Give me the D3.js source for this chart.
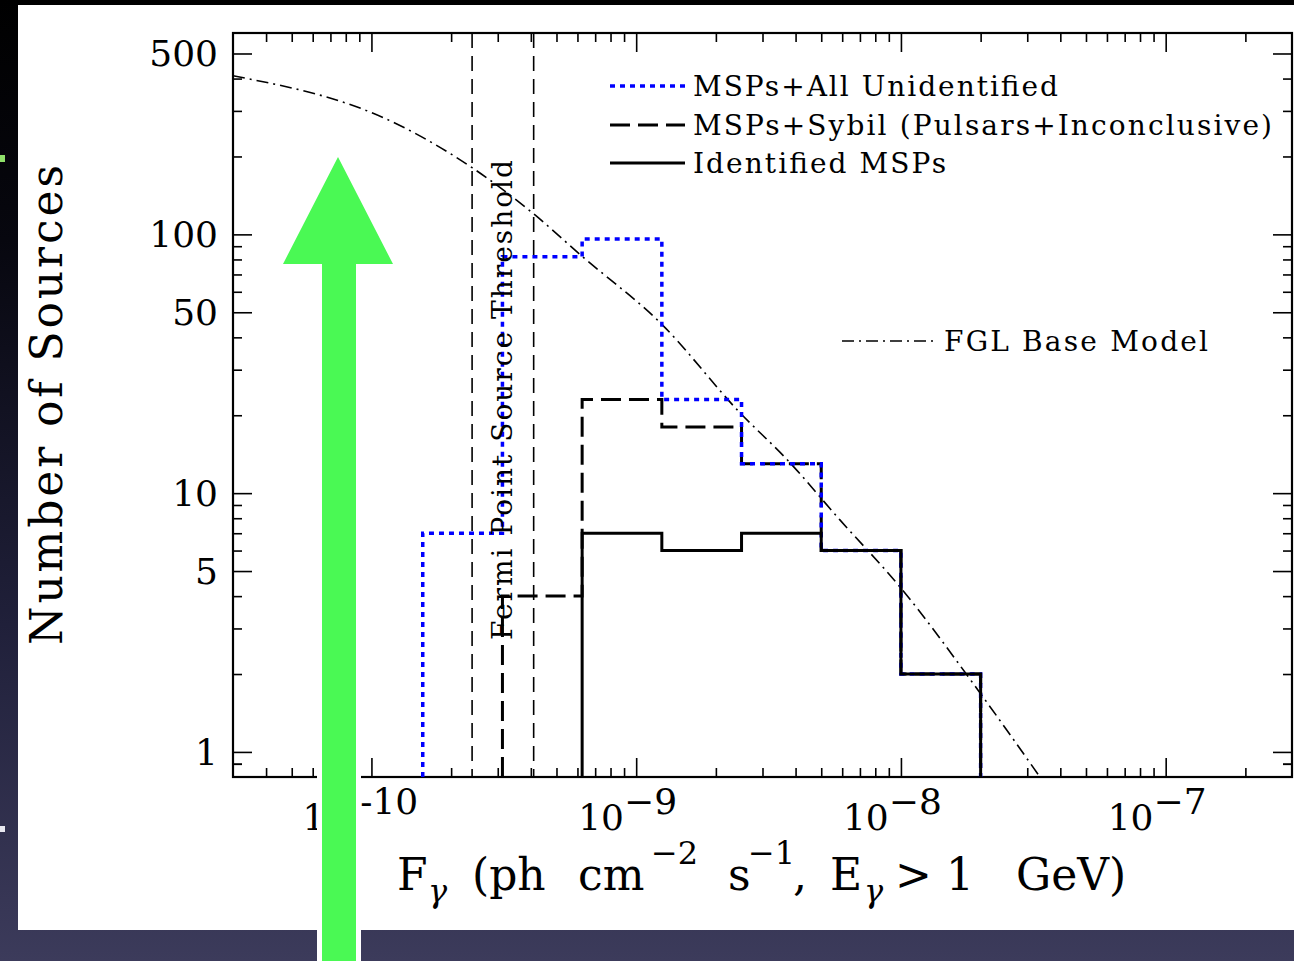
<!DOCTYPE html>
<html>
<head>
<meta charset="utf-8">
<script src="https://cdn.jsdelivr.net/npm/d3@7"></script>
<style>
  html, body { margin: 0; padding: 0; background: #000; }
  svg { display: block; }
  text { font-family: "DejaVu Serif", serif; fill: #000; }
</style>
</head>
<body>
<div id="chart"></div>
<script>
// bin edges of the flux histograms (ph cm^-2 s^-1)
const binEdges = [1.5625e-10, 3.125e-10, 6.25e-10, 1.25e-9, 2.5e-9, 5e-9, 1e-8, 2e-8];
// counts per bin, null = no bin drawn
const allUnidentified = [7, 82, 96, 23, 13, 6, 2];
const sybil = [null, 4, 23, 18, 13, 6, 2];
const identified = [null, null, 7, 6, 7, 6, 2];

// FGL base model
const modelFlux = [3.0e-11, 1.22e-10, 2.40e-10, 4.06e-10, 6.27e-10, 1.25e-9, 2.46e-9, 3.71e-9, 5.87e-9, 9.9e-9, 1.99e-8, 3.35e-8];
const modelCount = [410, 270, 181, 121, 82, 44.9, 20.5, 13.5, 7.9, 4.35, 1.69, 0.8];

// Fermi point source threshold lines
const thresholds = [2.4e-10, 4.1e-10];

// axis ticks
const xMajorExp = [-10, -9, -8, -7];
const yLabels = [1, 5, 10, 50, 100, 500];

const legendItems = ['MSPs+All Unidentified', 'MSPs+Sybil (Pulsars+Inconclusive)', 'Identified MSPs'];

const W = 1294, H = 961;
const plot = { left: 233, right: 1292, top: 33, bottom: 777 };

const svg = d3.select('#chart').append('svg').attr('width', W).attr('height', H);

// slide background
const defs = svg.append('defs');
const grad = defs.append('linearGradient').attr('id', 'bg').attr('x1', 0).attr('y1', 0).attr('x2', 0).attr('y2', 1);
grad.append('stop').attr('offset', 0).attr('stop-color', '#000000');
grad.append('stop').attr('offset', 0.25).attr('stop-color', '#07070f');
grad.append('stop').attr('offset', 0.65).attr('stop-color', '#20203a');
grad.append('stop').attr('offset', 1).attr('stop-color', '#3c3b5b');
svg.append('rect').attr('width', W).attr('height', H).attr('fill', 'url(#bg)');
svg.append('rect').attr('x', 0).attr('y', 155).attr('width', 5).attr('height', 7).attr('fill', '#8fe06a');
svg.append('rect').attr('x', 0).attr('y', 826).attr('width', 5).attr('height', 6).attr('fill', '#e8e8f0');
svg.append('rect').attr('x', 18).attr('y', 5).attr('width', W - 18).attr('height', 925).attr('fill', '#ffffff');

const xScale = d3.scaleLog().domain([3.0e-11, 3.0e-7]).range([plot.left, plot.right]);
const yScale = d3.scaleLog().domain([0.8, 600]).range([plot.bottom, plot.top]);

// minor ticks 2..9 x 10^k inside the domain
const minorTicks = (scale, k0, k1) => {
  const out = [];
  const [lo, hi] = scale.domain();
  for (let k = k0; k <= k1; k++) {
    for (let m = 2; m <= 9; m++) {
      const v = m * Math.pow(10, k);
      if (v > lo && v < hi && !(scale === yScale && m === 5)) out.push(v);
    }
  }
  return out;
};
const xMajor = xMajorExp.map((e) => Math.pow(10, e));
const xMinor = minorTicks(xScale, -11, -7);
const yMinor = minorTicks(yScale, -1, 2).concat([0.9]);

const majLen = 19, minLen = 9;
const g = svg.append('g');

const addAxis = (axisFn, scale, values, len, tx, ty) => {
  g.append('g')
    .attr('transform', `translate(${tx},${ty})`)
    .call(axisFn(scale).tickValues(values).tickSizeInner(-len).tickSizeOuter(0).tickFormat(''))
    .call((s) => s.select('.domain').remove())
    .call((s) => s.selectAll('line').attr('stroke', '#000').attr('stroke-width', 1.6));
};
[[d3.axisBottom, 0, plot.bottom], [d3.axisTop, 0, plot.top]].forEach(([fn, tx, ty]) => {
  addAxis(fn, xScale, xMajor, majLen, tx, ty);
  addAxis(fn, xScale, xMinor, minLen, tx, ty);
});
[[d3.axisLeft, plot.left, 0], [d3.axisRight, plot.right, 0]].forEach(([fn, tx, ty]) => {
  addAxis(fn, yScale, yLabels, majLen, tx, ty);
  addAxis(fn, yScale, yMinor, minLen, tx, ty);
});

// frame
g.append('rect')
  .attr('x', plot.left).attr('y', plot.top)
  .attr('width', plot.right - plot.left).attr('height', plot.bottom - plot.top)
  .attr('fill', 'none').attr('stroke', '#000').attr('stroke-width', 2.2);

// y tick labels
g.selectAll('.ylab').data(yLabels).enter().append('text')
  .attr('x', plot.left - 15)
  .attr('y', (d) => yScale(d) + 13)
  .attr('text-anchor', 'end')
  .style('font-size', '36px')
  .text((d) => d);

// x tick labels 10^k
const xl = g.selectAll('.xlab').data(xMajorExp).enter().append('text')
  .attr('x', (d) => xScale(Math.pow(10, d)) - (d === -10 ? 69 : 58))
  .attr('y', 830)
  .style('font-size', '36px');
xl.append('tspan').text('10');
xl.append('tspan')
  .attr('dy', -16)
  .attr('dx', (d) => (d === -10 ? 12 : 0))
  .text((d) => (d === -10 ? '-' : '\u2212') + Math.abs(d));

// clip for data
defs.append('clipPath').attr('id', 'clip').append('rect')
  .attr('x', plot.left).attr('y', plot.top)
  .attr('width', plot.right - plot.left).attr('height', plot.bottom - plot.top);
const data = g.append('g').attr('clip-path', 'url(#clip)');

// threshold lines
data.selectAll('.thr').data(thresholds).enter().append('line')
  .attr('x1', (d) => xScale(d)).attr('x2', (d) => xScale(d))
  .attr('y1', plot.top).attr('y2', plot.bottom)
  .attr('stroke', '#000').attr('stroke-width', 1.6)
  .attr('stroke-dasharray', '15 8');

// FGL model curve
const modelPts = modelFlux.map((f, i) => [f, modelCount[i]]);
data.append('path')
  .attr('d', d3.line().x((d) => xScale(d[0])).y((d) => yScale(d[1])).curve(d3.curveMonotoneX)(modelPts))
  .attr('fill', 'none').attr('stroke', '#000').attr('stroke-width', 1.6)
  .attr('stroke-dasharray', '12 5 2 5');

// step histograms
const stepPoints = (vals) => {
  const floor = yScale.domain()[0];
  const pts = [];
  const first = vals.findIndex((v) => v !== null);
  pts.push([binEdges[first], floor]);
  for (let i = first; i < vals.length; i++) {
    pts.push([binEdges[i], vals[i]]);
    pts.push([binEdges[i + 1], vals[i]]);
  }
  pts.push([binEdges[vals.length], floor]);
  return pts;
};
const stepLine = d3.line().x((d) => xScale(d[0])).y((d) => yScale(d[1]));
const styles = [
  { vals: sybil, color: '#000', dash: '20 8', width: 3 },
  { vals: allUnidentified, color: '#0000ff', dash: '5 5', width: 3.5 },
  { vals: identified, color: '#000', dash: null, width: 3 },
];
styles.forEach((s) => {
  data.append('path')
    .attr('d', stepLine(stepPoints(s.vals)))
    .attr('fill', 'none').attr('stroke', s.color).attr('stroke-width', s.width)
    .attr('stroke-dasharray', s.dash);
});

// threshold label
g.append('text')
  .attr('transform', `translate(512,400) rotate(-90)`)
  .attr('text-anchor', 'middle')
  .attr('textLength', 480).attr('lengthAdjust', 'spacing')
  .style('font-size', '28px')
  .text('Fermi Point Source Threshold');

// legend
const legendStyles = [styles[1], styles[0], styles[2]];
const legendY = [86, 125, 163];
const legendW = [365, 579, 253];
legendItems.forEach((name, i) => {
  const st = legendStyles[i];
  g.append('line')
    .attr('x1', 610).attr('x2', 685).attr('y1', legendY[i]).attr('y2', legendY[i])
    .attr('stroke', st.color).attr('stroke-width', st.width).attr('stroke-dasharray', st.dash);
  g.append('text')
    .attr('x', 693).attr('y', legendY[i] + 10)
    .attr('textLength', legendW[i]).attr('lengthAdjust', 'spacing')
    .style('font-size', '28px')
    .text(name);
});
g.append('line')
  .attr('x1', 842).attr('x2', 935).attr('y1', 341).attr('y2', 341)
  .attr('stroke', '#000').attr('stroke-width', 1.6).attr('stroke-dasharray', '12 5 2 5');
g.append('text')
  .attr('x', 944).attr('y', 351)
  .attr('textLength', 264).attr('lengthAdjust', 'spacing')
  .style('font-size', '28px')
  .text('FGL Base Model');

// axis titles
g.append('text')
  .attr('transform', 'translate(62,405) rotate(-90)')
  .attr('text-anchor', 'middle')
  .attr('textLength', 480).attr('lengthAdjust', 'spacing')
  .style('font-size', '44px')
  .text('Number of Sources');

// x title pieces: [text, x, baseline shift, size, italic]
const xTitleParts = [
  ['F', 397, 0, 44, false],
  ['\u03b3', 428, 12, 32, true],
  ['(ph', 472, 0, 44, false],
  ['cm', 578, 0, 44, false],
  ['\u22122', 651, -26, 32, false],
  ['s', 728, 0, 44, false],
  ['\u22121', 748, -26, 32, false],
  [',', 793, 0, 44, false],
  ['E', 830, 0, 44, false],
  ['\u03b3', 864, 12, 32, true],
  ['>', 895, 0, 44, false],
  ['1', 946, 0, 44, false],
  ['GeV)', 1016, 0, 44, false],
];
g.selectAll('.xt').data(xTitleParts).enter().append('text')
  .attr('x', (d) => d[1])
  .attr('y', (d) => 890 + d[2])
  .style('font-size', (d) => d[3] + 'px')
  .style('font-style', (d) => (d[4] ? 'italic' : 'normal'))
  .text((d) => d[0]);

// green arrow overlay
const arrow = [[338, 157], [393, 264], [356, 264], [356, 975], [322, 975], [322, 264], [283, 264]];
svg.append('polygon')
  .attr('points', arrow.map((p) => p.join(',')).join(' '))
  .attr('fill', '#4af954').attr('stroke', '#ffffff').attr('stroke-width', 10)
  .attr('stroke-linejoin', 'miter')
  .style('paint-order', 'stroke');
</script>
</body>
</html>
